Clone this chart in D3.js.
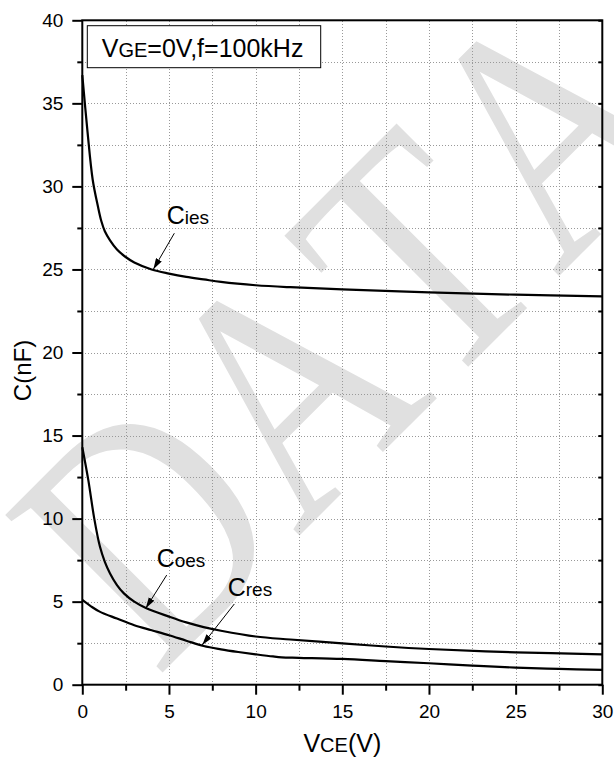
<!DOCTYPE html>
<html>
<head>
<meta charset="utf-8">
<script src="https://cdn.jsdelivr.net/npm/d3@7"></script>
<style>
  body { margin: 0; background: #fff; }
  svg { display: block; }
  text { font-family: "Liberation Sans", Arial, sans-serif; }
</style>
</head>
<body>
<div id="chart"></div>
<script>
// Axis ticks
const xMajor = [0, 5, 10, 15, 20, 25, 30];
const yMajor = [0, 5, 10, 15, 20, 25, 30, 35, 40];
const xMinor = [2.5, 7.5, 12.5, 17.5, 22.5, 27.5];
const yMinor = [2.5, 7.5, 12.5, 17.5, 22.5, 27.5, 32.5, 37.5];

// Capacitance curves, VCE (V) -> C (nF)
const ciesV = [0, 0.3, 0.6, 0.9, 1.1, 1.3, 1.6, 2, 2.5, 3, 4, 5, 6, 7, 8, 10, 12, 15, 20, 25, 30];
const ciesC = [36.7, 33.3, 30.4, 28.8, 27.9, 27.3, 26.75, 26.2, 25.75, 25.42, 25.0, 24.75, 24.55, 24.4, 24.25, 24.05, 23.93, 23.8, 23.62, 23.48, 23.38];

const coesV = [0, 0.35, 0.69, 1.02, 1.3, 1.6, 2, 2.4, 3, 3.7, 5, 6, 7, 8, 10, 12, 15, 17.5, 20, 25, 30];
const coesC = [14.3, 12.3, 10.0, 8.3, 7.4, 6.7, 6.0, 5.5, 5.0, 4.6, 4.1, 3.75, 3.47, 3.25, 2.9, 2.72, 2.49, 2.3, 2.15, 1.95, 1.83];

const cresV = [0, 0.5, 1, 2, 3, 4, 5, 6, 7, 8, 9, 10, 11, 11.5, 12.5, 15, 17.5, 20, 22.5, 25, 27.5, 30];
const cresC = [5.1, 4.72, 4.4, 3.98, 3.58, 3.28, 2.98, 2.65, 2.33, 2.13, 1.97, 1.83, 1.7, 1.65, 1.62, 1.55, 1.42, 1.29, 1.15, 1.03, 0.95, 0.89];

// Curve labels (data coordinates) with arrow start / end
const labels = [
  { main: 'C', sub: 'ies', x: 4.87, y: 27.72, from: [5.31, 27.18], to: [4.10, 25.01] },
  { main: 'C', sub: 'oes', x: 4.29, y: 7.10, from: [4.87, 6.60], to: [3.66, 4.60] },
  { main: 'C', sub: 'res', x: 8.39, y: 5.34, from: [8.77, 4.86], to: [6.92, 2.39] }
];

const width = 614, height = 758;
const margin = { top: 20.3, right: 11.7, bottom: 73.3, left: 82.3 };
const iw = width - margin.left - margin.right;
const ih = height - margin.top - margin.bottom;

const svg = d3.select('#chart').append('svg')
  .attr('width', width)
  .attr('height', height);

// Watermark
svg.append('text')
  .attr('transform', 'translate(157,678) rotate(-45) scale(0.81,1)')
  .style('font-family', '"Liberation Serif", "Times New Roman", serif')
  .style('font-kerning', 'none')
  .style('fill', '#e0e0e0')
  .attr('font-size', 340)
  .text('DATA');

const g = svg.append('g')
  .attr('transform', `translate(${margin.left},${margin.top})`);

const x = d3.scaleLinear().domain([0, 30]).range([0, iw]);
const y = d3.scaleLinear().domain([0, 40]).range([ih, 0]);

// Dotted grid at every 2.5
const gridX = xMajor.concat(xMinor).filter(v => v > 0 && v < 30);
const gridY = yMajor.concat(yMinor).filter(v => v > 0 && v < 40);

g.append('g')
  .attr('transform', `translate(0,${ih})`)
  .call(d3.axisBottom(x).tickValues(gridX).tickSize(-ih).tickFormat(''))
  .call(s => s.select('.domain').remove())
  .call(s => s.selectAll('line')
    .attr('stroke', '#999')
    .attr('stroke-dasharray', '1,2')
    .attr('shape-rendering', 'crispEdges'));

g.append('g')
  .call(d3.axisLeft(y).tickValues(gridY).tickSize(-iw).tickFormat(''))
  .call(s => s.select('.domain').remove())
  .call(s => s.selectAll('line')
    .attr('stroke', '#999')
    .attr('stroke-dasharray', '1,2')
    .attr('shape-rendering', 'crispEdges'));

// Curves
const line = d3.line()
  .x(d => x(d[0]))
  .y(d => y(d[1]))
  .curve(d3.curveCatmullRom.alpha(0.5));

[[ciesV, ciesC], [coesV, coesC], [cresV, cresC]].forEach(([vs, cs]) => {
  g.append('path')
    .datum(vs.map((v, i) => [v, cs[i]]))
    .attr('fill', 'none')
    .attr('stroke', '#000')
    .attr('stroke-width', 2.2)
    .attr('d', line);
});

// Axes
function styleAxis(s) {
  s.select('.domain').remove();
  s.selectAll('line').attr('stroke', '#000').attr('stroke-width', 2);
  s.selectAll('text').attr('font-size', 19).style('fill', '#000')
    .style('font-family', '"Liberation Sans", Arial, sans-serif');
}

g.append('g')
  .call(d3.axisLeft(y).tickValues(yMinor).tickSize(5).tickFormat(''))
  .call(styleAxis);
g.append('g')
  .call(d3.axisLeft(y).tickValues(yMajor).tickSize(10).tickPadding(9))
  .call(styleAxis);

g.append('g')
  .attr('transform', `translate(0,${ih})`)
  .call(d3.axisBottom(x).tickValues(xMinor).tickSize(6).tickFormat(''))
  .call(styleAxis);
g.append('g')
  .attr('transform', `translate(0,${ih})`)
  .call(d3.axisBottom(x).tickValues(xMajor).tickSize(10).tickPadding(10))
  .call(styleAxis);

g.append('g')
  .attr('transform', `translate(${iw},0)`)
  .call(d3.axisRight(y).tickValues(yMajor.concat(yMinor)).tickSize(-4).tickFormat(''))
  .call(styleAxis);

// Frame
g.append('rect')
  .attr('width', iw)
  .attr('height', ih)
  .attr('fill', 'none')
  .attr('stroke', '#000')
  .attr('stroke-width', 2);

// Axis titles
svg.append('text')
  .attr('transform', `translate(31,${margin.top + ih / 2 + 18}) rotate(-90)`)
  .attr('text-anchor', 'middle')
  .attr('font-size', 24)
  .style('fill', '#000')
  .text('C(nF)');

const xt = svg.append('text')
  .attr('x', margin.left + x(15))
  .attr('y', 752)
  .attr('text-anchor', 'middle')
  .attr('font-size', 25)
  .style('fill', '#000');
xt.append('tspan').text('V');
xt.append('tspan').attr('font-size', 20).text('CE');
xt.append('tspan').text('(V)');

// Condition box
g.append('rect')
  .attr('x', 5)
  .attr('y', 5.4)
  .attr('width', 233.4)
  .attr('height', 42)
  .attr('fill', '#fff')
  .attr('stroke', '#000')
  .attr('stroke-width', 1);

const lt = g.append('text')
  .attr('x', 19.4)
  .attr('y', 36.4)
  .attr('font-size', 25)
  .style('fill', '#000');
lt.append('tspan').text('V');
lt.append('tspan').attr('font-size', 20).text('GE');
lt.append('tspan').text('=0V,f=100kHz');

// Arrow marker
svg.append('defs').append('marker')
  .attr('id', 'arrow')
  .attr('viewBox', '0 0 10 6')
  .attr('refX', 10)
  .attr('refY', 3)
  .attr('markerWidth', 11)
  .attr('markerHeight', 7)
  .attr('markerUnits', 'userSpaceOnUse')
  .attr('orient', 'auto')
  .append('path')
  .attr('d', 'M0,0L10,3L0,6Z')
  .attr('fill', '#000');

labels.forEach(l => {
  const t = g.append('text')
    .attr('x', x(l.x))
    .attr('y', y(l.y))
    .attr('font-size', 25)
    .style('fill', '#000');
  t.append('tspan').text(l.main);
  t.append('tspan').attr('font-size', 19).text(l.sub);

  g.append('line')
    .attr('x1', x(l.from[0]))
    .attr('y1', y(l.from[1]))
    .attr('x2', x(l.to[0]))
    .attr('y2', y(l.to[1]))
    .attr('stroke', '#000')
    .attr('stroke-width', 1)
    .attr('marker-end', 'url(#arrow)');
});
</script>
</body>
</html>
